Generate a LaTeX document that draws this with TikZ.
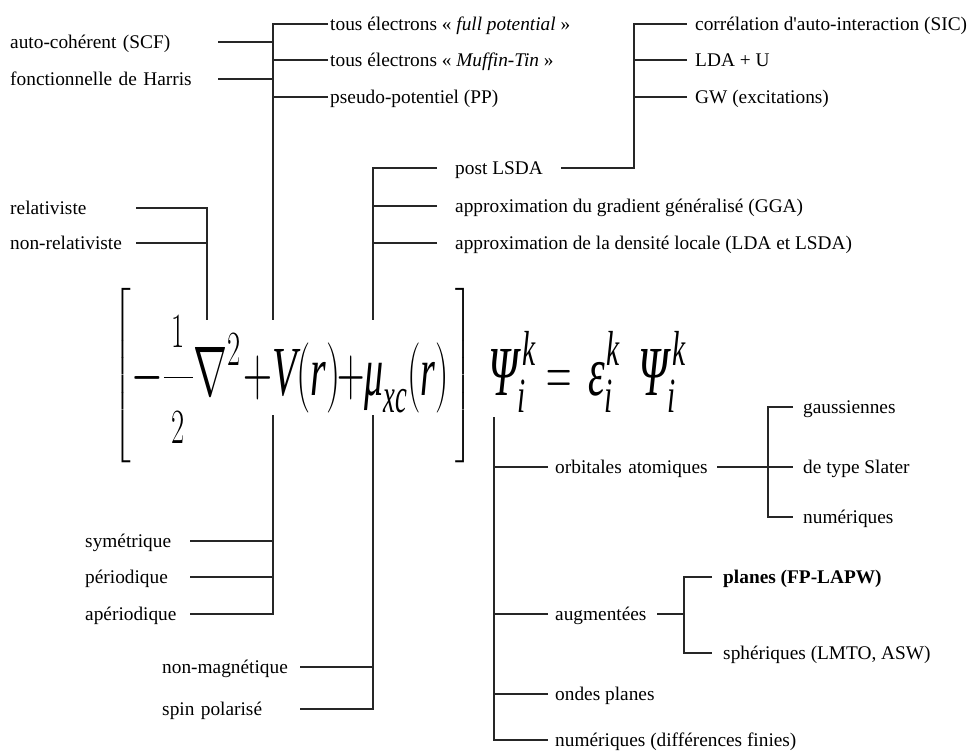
\RequirePackage{fix-cm}
\documentclass[tikz,border=0pt]{standalone}
\usepackage{amsmath}
\usepackage{fontspec}
\setmainfont{Liberation Serif}
\usepackage{graphicx}
\newcommand{\labelfont}{\fontsize{16.5}{19}\selectfont}
\newcommand{\eqfont}{\fontsize{60}{62}\selectfont}
\newcommand{\mv}[1]{\text{\itshape #1}}
\newcommand{\eqbox}[2][0.6]{\scalebox{#1}[1]{\eqfont$\displaystyle #2$}}
\tikzset{
treelabel/.style={font=\labelfont, anchor=west, inner ysep=0pt, inner xsep=0pt, align=left, text height=14.9pt, text depth=3.3pt},
treeline/.style={line width=1.4pt, draw=black!85},
eqpart/.style={anchor=base west, inner sep=0pt}
}
\begin{document}
\begin{tikzpicture}[x=0.3mm, y=-0.3mm]
  \useasboundingbox (0,0) rectangle (973,751);
  % the equation
  \node[eqpart] (lbr) at (113,393) {\eqbox[0.9]{\left[\vcenter to 148pt{}\right.}};
  \node[eqpart] (kin) at (131,395) {\eqbox[0.58]{-\dfrac{\scriptstyle\mkern5mu 1\mkern5mu}{\scriptstyle 2}\nabla^{2}}};
  \node[eqpart] (pot) at (243,395) {\eqbox[0.57]{+\mv{V}(\mv{r})}};
  \node[eqpart] (xcterm) at (337,395) {\eqbox[0.54]{+\mv{μ}_{\mv{xc}}(\mv{r})}};
  \node[eqpart, anchor=base east] (rbr) at (473,393) {\eqbox[0.9]{\left.\vcenter to 148pt{}\right]}};
  \node[eqpart] (psil) at (488,395) {\eqbox{\mv{Ψ}^{\mkern3mu\mv{k}}_{\mv{i}}}};
  \node[eqpart] (eqsign) at (546,395) {\eqbox[0.5]{=}};
  \node[eqpart] (eps) at (588,395) {\eqbox{\mv{ε}^{\mkern1mu\mv{k}}_{\mv{i}}}};
  \node[eqpart] (psir) at (638,395) {\eqbox{\mv{Ψ}^{\mkern3mu\mv{k}}_{\mv{i}}}};
  \coordinate (kintop) at (207,320);
  \coordinate (pottop) at (273,320);
  \coordinate (potbot) at (273,415);
  \coordinate (xctop) at (373,320);
  \coordinate (xcbot) at (373,415);
  \coordinate (psibot) at (494,417);
  \coordinate (sicfork) at (634,24);
  \coordinate (orbfork) at (768,467);
  \coordinate (augfork) at (684,614);
  % labels above
  \node[treelabel, text width=62.4mm] (scf) at (10,42) {auto-cohérent (SCF)};
  \node[treelabel, text width=62.4mm] (harris) at (10,79) {fonctionnelle de Harris};
  \node[treelabel, text width=37.8mm] (rel) at (10,208) {relativiste};
  \node[treelabel, text width=37.8mm] (nrel) at (10,243) {non-relativiste};
  \node[treelabel, inner xsep=0.6mm] (fp) at (328,24) {tous électrons « \textit{full potential} »};
  \node[treelabel, inner xsep=0.6mm] (mt) at (328,60) {tous électrons « \textit{Muffin-Tin} »};
  \node[treelabel, inner xsep=0.6mm] (pp) at (328,97) {pseudo-potentiel (PP)};
  \node[treelabel, inner xsep=2.4mm] (sic) at (687,24) {corrélation d\textquotesingle auto-interaction (SIC)};
  \node[treelabel, inner xsep=2.4mm] (ldau) at (687,60) {LDA + U};
  \node[treelabel, inner xsep=2.4mm] (gw) at (687,97) {GW (excitations)};
  \node[treelabel, inner xsep=5.4mm] (post) at (437,168) {post LSDA};
  \node[treelabel, inner xsep=5.4mm] (gga) at (437,206) {approximation du gradient généralisé (GGA)};
  \node[treelabel, inner xsep=5.4mm] (lda) at (437,243) {approximation de la densité locale (LDA et LSDA)};
  % labels below
  \node[treelabel, text width=31.5mm] (sym) at (85,541) {symétrique};
  \node[treelabel, text width=31.5mm] (per) at (85,577) {périodique};
  \node[treelabel, text width=31.5mm] (aper) at (85,614) {apériodique};
  \node[treelabel, text width=41.4mm] (nmag) at (162,667) {non-magnétique};
  \node[treelabel, text width=41.4mm] (spin) at (162,709) {spin polarisé};
  \node[treelabel, inner xsep=2.1mm, text width=46.5mm] (orb) at (548,467) {orbitales atomiques};
  \node[treelabel, inner xsep=2.1mm, text width=28.5mm] (aug) at (548,614) {augmentées};
  \node[treelabel, inner xsep=2.1mm] (ondes) at (548,694) {ondes planes};
  \node[treelabel, inner xsep=2.1mm] (numfd) at (548,740) {numériques (différences finies)};
  \node[treelabel, inner xsep=3mm] (gauss) at (793,407) {gaussiennes};
  \node[treelabel, inner xsep=3mm] (slater) at (793,467) {de type Slater};
  \node[treelabel, inner xsep=3mm] (numer) at (793,517) {numériques};
  \node[treelabel, inner xsep=3.3mm] (planes) at (712,577) {\bfseries planes (FP-LAPW)};
  \node[treelabel, inner xsep=3.3mm] (spher) at (712,653) {sphériques (LMTO, ASW)};
  % potential
  \draw[treeline] (fp.west) -| (pottop);
  \draw[treeline] (mt.west) -- (mt.west -| pottop);
  \draw[treeline] (pp.west) -- (pp.west -| pottop);
  \draw[treeline] (scf.east) -- (scf.east -| pottop);
  \draw[treeline] (harris.east) -- (harris.east -| pottop);
  \draw[treeline] (potbot) |- (aper.east);
  \draw[treeline] (sym.east) -- (sym.east -| potbot);
  \draw[treeline] (per.east) -- (per.east -| potbot);
  % kinetic
  \draw[treeline] (rel.east) -| (kintop);
  \draw[treeline] (nrel.east) -- (nrel.east -| kintop);
  % exchange-correlation
  \draw[treeline] (post.west) -| (xctop);
  \draw[treeline] (gga.west) -- (gga.west -| xctop);
  \draw[treeline] (lda.west) -- (lda.west -| xctop);
  \draw[treeline] (post.east) -| (sicfork) -- (sic.west);
  \draw[treeline] (ldau.west) -- (ldau.west -| sicfork);
  \draw[treeline] (gw.west) -- (gw.west -| sicfork);
  \draw[treeline] (xcbot) |- (spin.east);
  \draw[treeline] (nmag.east) -- (nmag.east -| xcbot);
  % basis
  \draw[treeline] (psibot) |- (numfd.west);
  \draw[treeline] (orb.west) -- (orb.west -| psibot);
  \draw[treeline] (aug.west) -- (aug.west -| psibot);
  \draw[treeline] (ondes.west) -- (ondes.west -| psibot);
  \draw[treeline] (orb.east) -- (slater.west);
  \draw[treeline] (gauss.west) -| (orbfork) |- (numer.west);
  \draw[treeline] (aug.east) -- (augfork);
  \draw[treeline] (planes.west) -| (augfork) |- (spher.west);
\end{tikzpicture}
\end{document}
